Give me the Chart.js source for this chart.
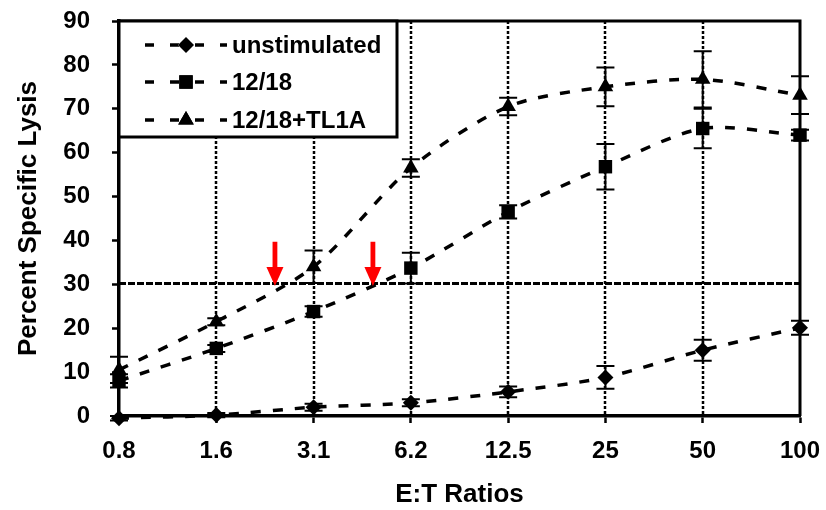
<!DOCTYPE html>
<html>
<head>
<meta charset="utf-8">
<script src="https://cdn.jsdelivr.net/npm/chart.js@4.4.0/dist/chart.umd.min.js"></script>
<style>
  html, body { margin: 0; padding: 0; background: #fff; }
  #wrap { width: 826px; height: 510px; }
</style>
</head>
<body>
<div id="wrap"><canvas id="lysisChart"></canvas></div>
<script>
// E:T ratio categories, drawn evenly spaced
const ratios = ['0.8', '1.6', '3.1', '6.2', '12.5', '25', '50', '100'];

// Percent specific lysis and +/- error
const unstim     = [-0.5, 0.2, 2.0, 3.0, 5.5, 8.8, 15.0, 20.1];
const unstimErr  = [0.5, 0.5, 0.8, 0.8, 1.2, 2.6, 2.4, 1.6];
const il1218     = [8.0, 15.4, 23.8, 33.7, 46.5, 56.8, 65.5, 64.0];
const il1218Err  = [1.5, 0.8, 1.2, 3.5, 1.5, 5.2, 4.5, 1.2];
const tl1a       = [10.5, 21.5, 34.0, 56.5, 70.5, 75.0, 76.7, 73.1];
const tl1aErr    = [3.0, 0.8, 3.7, 2.0, 2.0, 4.4, 6.4, 4.3];

// reference level and red arrow positions (x in category index units)
const threshold = 30.2;
const arrowX = [1.603, 2.61];
const arrowTop = 39.7;
const arrowTip = 29.6;

const FONT = "'Liberation Sans', Arial, sans-serif";

function pts(arr) {
    return arr.map((v, i) => ({ x: i, y: v }));
}

function series(label, data, err, style, radius) {
    return {
        label: label,
        data: pts(data),
        errors: err,
        borderColor: '#000',
        backgroundColor: '#000',
        borderWidth: 3.5,
        borderDash: [10, 12],
        tension: 0.28,
        pointStyle: style,
        pointRadius: radius,
        pointBorderWidth: 0,
        pointBackgroundColor: '#000',
        clip: false
    };
}

const datasets = [
    series('unstimulated', unstim, unstimErr, 'rectRot', 8),
    series('12/18', il1218, il1218Err, 'rect', 9.5),
    series('12/18+TL1A', tl1a, tl1aErr, 'triangle', 9),
    {
        label: 'threshold',
        data: [{ x: 0, y: threshold }, { x: 7, y: threshold }],
        borderColor: '#000',
        borderWidth: 3,
        borderDash: [7, 2],
        pointRadius: 0,
        tension: 0
    }
];

// dotted vertical lines, frame, error bars
const backdrop = {
    id: 'backdrop',
    beforeDatasetsDraw(chart) {
        const { ctx, chartArea: a, scales: { x, y } } = chart;
        ctx.save();
        ctx.strokeStyle = '#000';
        ctx.lineWidth = 2.5;
        ctx.setLineDash([3, 2]);
        for (let i = 1; i < ratios.length - 1; i++) {
            const px = Math.round(x.getPixelForValue(i));
            ctx.beginPath();
            ctx.moveTo(px, a.top);
            ctx.lineTo(px, a.bottom);
            ctx.stroke();
        }
        ctx.setLineDash([]);
        ctx.lineWidth = 3;
        ctx.beginPath();
        ctx.moveTo(a.left, a.top);
        ctx.lineTo(a.right, a.top);
        ctx.lineTo(a.right, a.bottom);
        ctx.stroke();

        // error bars
        ctx.lineWidth = 2;
        chart.data.datasets.forEach(ds => {
            if (!ds.errors) return;
            ds.data.forEach((p, i) => {
                const px = x.getPixelForValue(p.x);
                const hi = y.getPixelForValue(p.y + ds.errors[i]);
                const lo = y.getPixelForValue(p.y - ds.errors[i]);
                ctx.beginPath();
                ctx.moveTo(px, hi); ctx.lineTo(px, lo);
                ctx.moveTo(px - 9, hi); ctx.lineTo(px + 9, hi);
                ctx.moveTo(px - 9, lo); ctx.lineTo(px + 9, lo);
                ctx.stroke();
            });
        });
        ctx.restore();
    }
};

// red arrows and the boxed legend
const overlay = {
    id: 'overlay',
    afterDatasetsDraw(chart) {
        const { ctx, scales: { x, y } } = chart;
        ctx.save();
        ctx.fillStyle = '#ff0000';
        arrowX.forEach(v => {
            const px = x.getPixelForValue(v);
            const top = y.getPixelForValue(arrowTop);
            const tip = y.getPixelForValue(arrowTip);
            ctx.fillRect(px - 2.4, top, 4.8, tip - top - 17);
            ctx.beginPath();
            ctx.moveTo(px - 8.5, tip - 19);
            ctx.lineTo(px + 8.5, tip - 19);
            ctx.lineTo(px, tip);
            ctx.closePath();
            ctx.fill();
        });
        ctx.restore();
    },
    afterDraw(chart) {
        const { ctx, chartArea: a } = chart;
        const boxW = 278, boxH = 116;
        ctx.save();
        ctx.fillStyle = '#fff';
        ctx.fillRect(a.left, a.top, boxW, boxH);
        ctx.strokeStyle = '#000';
        ctx.lineWidth = 3;
        ctx.strokeRect(a.left, a.top, boxW, boxH);
        const rowY = [45, 82, 120];
        chart.data.datasets.slice(0, 3).forEach((ds, i) => {
            const yy = rowY[i];
            ctx.strokeStyle = '#000';
            ctx.lineWidth = 3.5;
            ctx.setLineDash([9, 16]);
            ctx.beginPath();
            ctx.moveTo(a.left + 26, yy);
            ctx.lineTo(a.left + 108, yy);
            ctx.stroke();
            ctx.setLineDash([]);
            Chart.helpers.drawPoint(ctx, {
                pointStyle: ds.pointStyle,
                radius: ds.pointRadius,
                borderWidth: 0
            }, a.left + 67, yy);
            ctx.fillStyle = '#000';
            ctx.fill();
            ctx.font = 'bold 24px ' + FONT;
            ctx.textBaseline = 'middle';
            ctx.fillText(ds.label, a.left + 113, yy + 1);
        });
        ctx.restore();
    }
};

new Chart(document.getElementById('lysisChart'), {
    type: 'line',
    data: { datasets: datasets },
    plugins: [backdrop, overlay],
    options: {
        responsive: true,
        maintainAspectRatio: false,
        animation: false,
        layout: { padding: { top: 21, right: 26, left: 0, bottom: 0 } },
        plugins: {
            legend: { display: false },
            tooltip: { enabled: false }
        },
        scales: {
            x: {
                type: 'linear',
                min: 0,
                max: 7,
                afterFit: s => { s.height = 94; s.paddingLeft = 0; s.paddingRight = 0; },
                afterBuildTicks: s => { s.ticks = ratios.map((r, i) => ({ value: i })); },
                ticks: {
                    autoSkip: false,
                    maxRotation: 0,
                    padding: 14,
                    color: '#000',
                    font: { family: FONT, size: 24, weight: 'bold' },
                    callback: v => ratios[v]
                },
                grid: { drawOnChartArea: false, drawTicks: true, tickLength: 7, tickWidth: 2.5, tickColor: '#000' },
                border: { color: '#000', width: 3.5 },
                title: {
                    display: true,
                    text: 'E:T Ratios',
                    color: '#000',
                    padding: { top: 0, bottom: 0 },
                    font: { family: FONT, size: 26, weight: 'bold' }
                }
            },
            y: {
                min: 0,
                max: 90,
                afterFit: s => { s.width = 119; s.paddingTop = 0; s.paddingBottom = 0; },
                ticks: {
                    stepSize: 10,
                    padding: 22,
                    color: '#000',
                    font: { family: FONT, size: 24, weight: 'bold' }
                },
                grid: { drawOnChartArea: false, drawTicks: true, tickLength: 7, tickWidth: 2.5, tickColor: '#000' },
                border: { color: '#000', width: 3.5 },
                title: {
                    display: true,
                    text: 'Percent Specific Lysis',
                    color: '#000',
                    padding: { top: 13, bottom: 0 },
                    font: { family: FONT, size: 26, weight: 'bold' }
                }
            }
        }
    }
});
</script>
</body>
</html>
